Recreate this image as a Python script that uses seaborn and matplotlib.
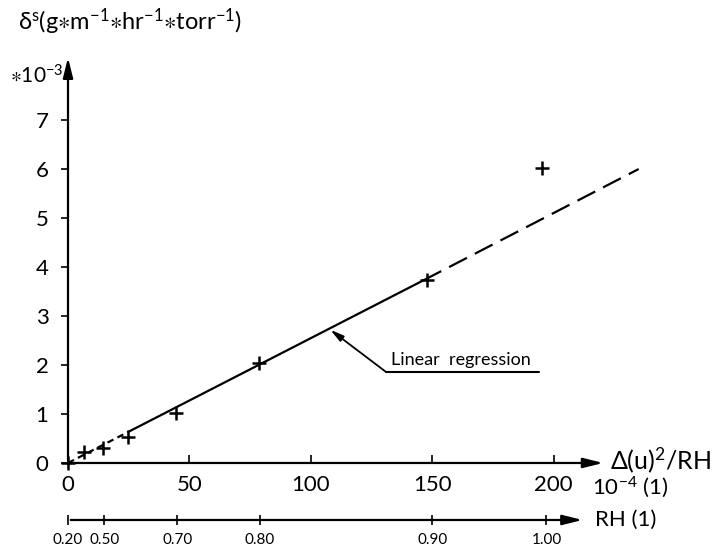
import numpy as np
import pandas as pd
import matplotlib
matplotlib.use('Agg')
import matplotlib.pyplot as plt
import seaborn as sns

# values
meas_x = [0, 6.6, 14.4, 24.7, 44.4, 78.6, 148, 195]
meas_y = [0, 0.22, 0.31, 0.53, 1.02, 2.04, 3.73, 6.02]

# regression line pieces (dashed / solid / dashed)
line_lo_x = [0, 27]
line_lo_y = [0, 0.69]
line_mid_x = [27, 148]
line_mid_y = [0.69, 3.77]
line_hi_x = [148, 235]
line_hi_y = [3.77, 6.0]

x_ticks = [0, 50, 100, 150, 200]
y_ticks = [0, 1, 2, 3, 4, 5, 6, 7]
rh_pos = [0, 15, 45, 79, 150, 197]
rh_labels = ['0.20', '0.50', '0.70', '0.80', '0.90', '1.00']

sns.set_style('white')
plt.rcParams['font.family'] = ['Lato', 'DejaVu Sans']
plt.rcParams['mathtext.fontset'] = 'custom'
plt.rcParams['mathtext.rm'] = 'Lato'
plt.rcParams['mathtext.default'] = 'regular'
plt.rcParams['mathtext.fallback'] = 'stixsans'
for k in ['text.color', 'axes.labelcolor', 'xtick.color', 'ytick.color']:
    plt.rcParams[k] = 'black'

fig = plt.figure(figsize=(7.25, 5.54), dpi=100)
ax = fig.add_axes([0.0938, 0.1643, 0.8441, 0.7455])
ax.set_xlim(0, 252)
ax.set_ylim(0, 8.43)
sns.despine(ax=ax, left=True, bottom=True)

arrow_kw = dict(arrowstyle='-|>,head_length=1.2,head_width=0.3', color='black', lw=1.6)
# axes drawn as arrows
ax.annotate('', xy=(221.5, 0), xytext=(0, 0), annotation_clip=False, arrowprops=arrow_kw)
ax.annotate('', xy=(0, 8.33), xytext=(0, 0), annotation_clip=False, arrowprops=arrow_kw)

lo = pd.DataFrame({'x': line_lo_x, 'y': line_lo_y})
mid = pd.DataFrame({'x': line_mid_x, 'y': line_mid_y})
hi = pd.DataFrame({'x': line_hi_x, 'y': line_hi_y})
sns.lineplot(data=lo, x='x', y='y', ax=ax, color='black', lw=1.6, linestyle=(0, (3, 2)))
sns.lineplot(data=mid, x='x', y='y', ax=ax, color='black', lw=1.6)
sns.lineplot(data=hi, x='x', y='y', ax=ax, color='black', lw=1.6, linestyle=(2, (9, 4)))
for l in ax.lines:
    l.set_clip_on(False)

pts = pd.DataFrame({'x': meas_x, 'y': meas_y})
sns.scatterplot(data=pts, x='x', y='y', ax=ax, marker='+', s=90, color='black',
                linewidth=1.8, clip_on=False, zorder=5)

ax.set_xticks(x_ticks)
ax.set_yticks(y_ticks)
ax.set_xticklabels([str(v) for v in x_ticks])
ax.set_yticklabels([str(v) for v in y_ticks])
ax.tick_params(axis='x', direction='in', length=6, width=1.2, pad=9, labelsize=16, bottom=True)
ax.tick_params(axis='y', direction='out', length=5, width=1.2, pad=9, labelsize=16, left=True)
ax.set_xlabel('')
ax.set_ylabel('')

# linear regression callout
ax.plot([130.9, 193.8], [1.86, 1.86], color='black', lw=1.5)
ax.annotate('', xy=(108, 2.72), xytext=(130.9, 1.86),
            arrowprops=dict(arrowstyle='-|>,head_length=0.8,head_width=0.2', color='black', lw=1.3,
                            shrinkA=0, shrinkB=0))
ax.text(133, 1.93, 'Linear  regression', fontsize=13, ha='left', va='bottom')

# RH axis below
ax2 = fig.add_axes([0.0938, 0.0614, 0.8441, 0.01])
ax2.set_xlim(0, 252)
ax2.set_ylim(0, 1)
sns.despine(ax=ax2, left=True, bottom=True)
ax2.set_yticks([])
ax2.annotate('', xy=(213, 0), xytext=(0, 0), annotation_clip=False, arrowprops=arrow_kw)
ax2.set_xticks(rh_pos)
ax2.set_xticklabels(rh_labels)
ax2.tick_params(axis='x', direction='inout', length=7, width=1.2, pad=6, labelsize=11, bottom=True)

# texts
fig.text(18 / 725, 1 - 22 / 554,
         r'$\delta^{s}$(g$\ast$m$^{-1}$$\ast$hr$^{-1}$$\ast$torr$^{-1}$)', fontsize=17, ha='left', va='center')
fig.text(10 / 725, 1 - 76 / 554, r'$\ast$10$^{-3}$', fontsize=15, ha='left', va='center')
fig.text(610 / 725, 1 - 460 / 554, r'$\Delta$(u)$^{2}$/RH', fontsize=18, ha='left', va='center')
fig.text(592 / 725, 1 - 487 / 554, r'10$^{-4}$ (1)', fontsize=16, ha='left', va='center')
fig.text(595 / 725, 1 - 520 / 554, 'RH (1)', fontsize=16, ha='left', va='center')

plt.savefig('out.png', dpi=100)
